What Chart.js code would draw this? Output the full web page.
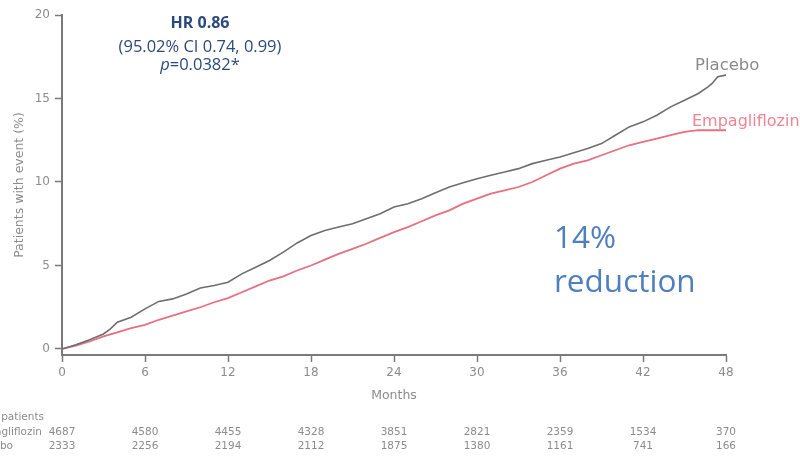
<!DOCTYPE html>
<html>
<head>
<meta charset="utf-8">
<script src="https://cdn.jsdelivr.net/npm/chart.js@4.4.1/dist/chart.umd.min.js"></script>
<style>
  html, body { margin: 0; padding: 0; background: #ffffff; }
  #wrap { width: 800px; height: 458px; position: relative; }
</style>
</head>
<body>
<div id="wrap"><canvas id="km"></canvas></div>
<script>
// Cumulative incidence (%) by month
const placeboMonths = [0,1,2,3,3.5,4,5,6,7,8,9,10,11,12,13,14,15,16,17,18,19,20,21,22,23,24,25,26,27,28,29,30,31,32,33,34,35,36,37,38,39,40,41,42,43,44,45,46,46.7,47,47.4,48];
const placeboPct = [0,0.25,0.55,0.9,1.2,1.6,1.9,2.4,2.85,3.0,3.3,3.65,3.8,4.0,4.5,4.9,5.3,5.8,6.35,6.8,7.1,7.3,7.5,7.8,8.1,8.5,8.7,9.0,9.35,9.7,9.95,10.2,10.4,10.6,10.8,11.1,11.3,11.5,11.75,12.0,12.3,12.8,13.3,13.6,14.0,14.5,14.9,15.3,15.7,15.9,16.3,16.4];

const empaMonths = [0,1,2,3,4,5,6,7,8,9,10,11,12,13,14,15,16,17,18,19,20,21,22,23,24,25,26,27,28,29,30,31,32,33,34,35,36,37,38,39,40,41,42,43,44,45,46,48];
const empaPct = [0,0.2,0.45,0.75,1.0,1.25,1.45,1.75,2.0,2.25,2.5,2.8,3.05,3.4,3.75,4.1,4.35,4.7,5.0,5.35,5.7,6.0,6.3,6.65,7.0,7.3,7.65,8.0,8.3,8.7,9.0,9.3,9.5,9.7,10.0,10.4,10.8,11.1,11.3,11.6,11.9,12.2,12.4,12.6,12.8,13.0,13.1,13.1];

// Axis ticks
const monthTicks = [0,6,12,18,24,30,36,42,48];
const pctTicks = [0,5,10,15,20];

// Number of patients at risk
const empaAtRisk = [4687,4580,4455,4328,3851,2821,2359,1534,370];
const placeboAtRisk = [2333,2256,2194,2112,1875,1380,1161,741,166];

const toXY = (xs, ys) => xs.map((x, i) => ({ x: x, y: ys[i] }));

const axisGrey = '#7a7a7a';
const tickGrey = '#8c8c8c';

const overlay = {
  id: 'overlay',
  afterDraw(chart) {
    const ctx = chart.ctx;
    const xs = chart.scales.x;
    ctx.save();

    // Hazard ratio block
    ctx.fillStyle = '#2b4a7c';
    ctx.textAlign = 'center';
    ctx.textBaseline = 'alphabetic';
    ctx.font = 'bold 16px "Open Sans"';
    ctx.fillText('HR 0.86', 200, 28);
    ctx.font = '16.5px "Open Sans"';
    ctx.fillText('(95.02% CI 0.74, 0.99)', 200, 52);
    ctx.textAlign = 'left';
    ctx.font = 'italic 16.5px "Open Sans"';
    const pW = ctx.measureText('p').width;
    ctx.font = '16.5px "Open Sans"';
    const restW = ctx.measureText('=0.0382*').width;
    const px = 200 - (pW + restW) / 2;
    ctx.font = 'italic 16.5px "Open Sans"';
    ctx.fillText('p', px, 70);
    ctx.font = '16.5px "Open Sans"';
    ctx.fillText('=0.0382*', px + pW, 70);

    // Reduction callout
    ctx.fillStyle = '#4f7fbf';
    ctx.font = '31.5px "Open Sans"';
    ctx.fillText('14%', 554, 248);
    ctx.fillText('reduction', 554, 292);

    // Series labels
    ctx.font = '16.5px "DejaVu Sans"';
    ctx.fillStyle = '#8a8a8a';
    ctx.fillText('Placebo', 695, 70);
    ctx.font = '16px "DejaVu Sans"';
    ctx.fillStyle = '#ee8595';
    ctx.fillText('Empagliflozin', 692, 126);

    // Patients at risk table
    ctx.font = '10.5px "DejaVu Sans"';
    ctx.fillStyle = '#8c8c8c';
    ctx.textAlign = 'right';
    ctx.fillText('No. of patients', 44, 420);
    ctx.fillText('Empagliflozin', 42, 435);
    ctx.fillText('Placebo', 13, 449);
    ctx.textAlign = 'center';
    monthTicks.forEach((m, i) => {
      const x = xs.getPixelForValue(m);
      ctx.fillText(String(empaAtRisk[i]), x, 435);
      ctx.fillText(String(placeboAtRisk[i]), x, 449);
    });
    ctx.restore();
  }
};

new Chart(document.getElementById('km'), {
  type: 'line',
  data: {
    datasets: [
      {
        label: 'Placebo',
        data: toXY(placeboMonths, placeboPct),
        borderColor: '#6e6e6e',
        borderWidth: 1.6,
        pointRadius: 0,
        tension: 0,
        fill: false
      },
      {
        label: 'Empagliflozin',
        data: toXY(empaMonths, empaPct),
        borderColor: '#e66f82',
        borderWidth: 1.8,
        pointRadius: 0,
        tension: 0,
        fill: false
      }
    ]
  },
  options: {
    responsive: true,
    maintainAspectRatio: false,
    animation: false,
    events: [],
    layout: { padding: { top: 15, right: 74, left: 0, bottom: 55 } },
    plugins: { legend: { display: false }, tooltip: { enabled: false } },
    scales: {
      x: {
        type: 'linear',
        min: 0,
        max: 48,
        afterBuildTicks: s => { s.ticks = monthTicks.map(v => ({ value: v })); },
        afterFit: s => { s.height = 48; },
        grid: { drawOnChartArea: false, drawTicks: true, tickLength: 7, tickWidth: 1.5, color: axisGrey },
        border: { display: true, color: axisGrey, width: 2 },
        ticks: { color: tickGrey, font: { family: 'DejaVu Sans', size: 12 }, padding: 4, maxRotation: 0 },
        title: { display: true, text: 'Months', color: tickGrey, font: { family: 'DejaVu Sans', size: 12.5 }, padding: { top: 4, bottom: 0 } }
      },
      y: {
        type: 'linear',
        min: -0.36,
        max: 20,
        afterBuildTicks: s => { s.ticks = pctTicks.map(v => ({ value: v })); },
        afterFit: s => { s.width = 62; },
        grid: { drawOnChartArea: false, drawTicks: true, tickLength: 7, tickWidth: 1.5, color: axisGrey },
        border: { display: true, color: axisGrey, width: 2 },
        ticks: { color: tickGrey, font: { family: 'DejaVu Sans', size: 12 }, padding: 5 },
        title: { display: true, text: 'Patients with event (%)', color: tickGrey, font: { family: 'DejaVu Sans', size: 12.5 }, padding: { top: 12, bottom: 0 } }
      }
    }
  },
  plugins: [overlay]
});
</script>
</body>
</html>
